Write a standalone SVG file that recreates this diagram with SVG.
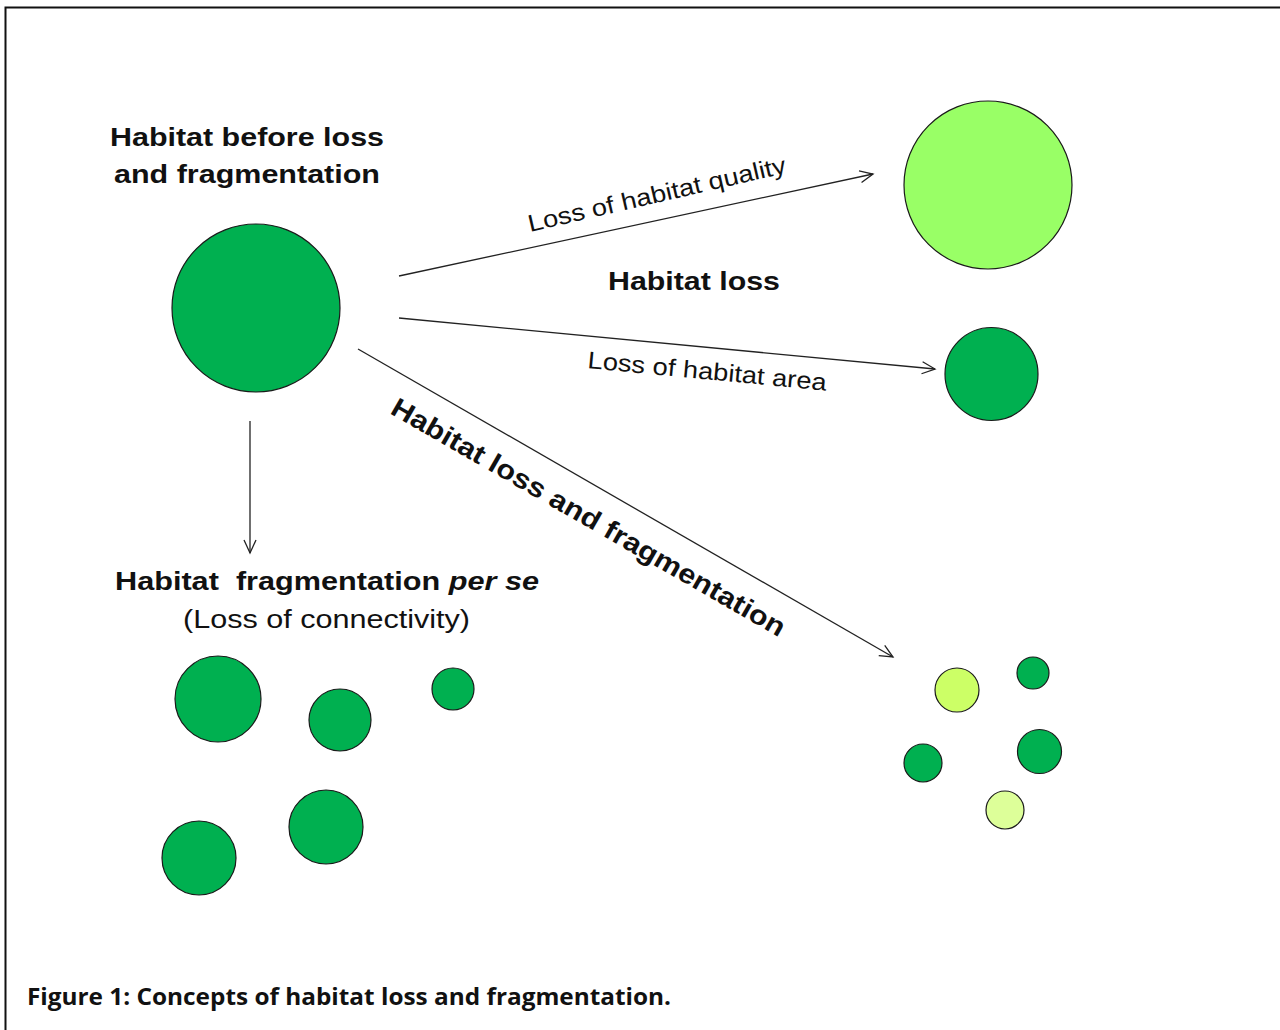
<svg xmlns="http://www.w3.org/2000/svg" width="1280" height="1030" viewBox="0 0 1280 1030">
<defs>
<marker id="arr" markerWidth="16" markerHeight="14" refX="14" refY="7" orient="auto" markerUnits="userSpaceOnUse">
<polyline points="1,1 14,7 1,13" fill="none" stroke="#222" stroke-width="1.3"/>
</marker>
<style>
.b{font-family:"Liberation Sans",Arial,sans-serif;font-weight:bold;fill:#111}
.r{font-family:"Liberation Sans",Arial,sans-serif;fill:#111}
.c{font-family:"Open Sans","Liberation Sans",sans-serif;font-weight:bold;fill:#111}
.g{fill:#00B050;stroke:#1a1a1a;stroke-width:1.2}
.lg{fill:#99FF66;stroke:#1a1a1a;stroke-width:1.2}
.yg{fill:#CCFF66;stroke:#1a1a1a;stroke-width:1.2}
.pg{fill:#DDFF99;stroke:#1a1a1a;stroke-width:1.2}
.ln{stroke:#222;stroke-width:1.3;fill:none;marker-end:url(#arr)}
</style>
</defs>
<rect width="1280" height="1030" fill="#fff"/>
<polyline points="5.5,1030 5.5,7.5 1280,7.5" fill="none" stroke="#111" stroke-width="2"/>

<g id="connectors">
<line class="ln" x1="399" y1="276" x2="873" y2="174"/>
<line class="ln" x1="399" y1="318" x2="935" y2="369"/>
<line class="ln" x1="358" y1="349" x2="893" y2="657"/>
<line class="ln" x1="250" y1="421" x2="250" y2="553"/>
</g>

<g id="labels">
<text class="r" font-size="24" transform="translate(530,232) rotate(-13)" textLength="264" lengthAdjust="spacingAndGlyphs">Loss of habitat quality</text>
<text class="b" font-size="26" x="694" y="290" text-anchor="middle" textLength="172" lengthAdjust="spacingAndGlyphs">Habitat loss</text>
<text class="r" font-size="24" transform="translate(587,368) rotate(5.4)" textLength="240" lengthAdjust="spacingAndGlyphs">Loss of habitat area</text>
<text class="b" font-size="27" transform="translate(389,413) rotate(29.9)" textLength="450" lengthAdjust="spacingAndGlyphs">Habitat loss and fragmentation</text>
</g>

<g id="node-before">
<text class="b" font-size="25" x="247" y="146" text-anchor="middle" textLength="274" lengthAdjust="spacingAndGlyphs">Habitat before loss</text>
<text class="b" font-size="25" x="247" y="183" text-anchor="middle" textLength="266" lengthAdjust="spacingAndGlyphs">and fragmentation</text>
<circle class="g" cx="256" cy="308" r="84"/>
</g>

<g id="node-quality">
<circle class="lg" cx="988" cy="185" r="84"/>
</g>

<g id="node-area">
<circle class="g" cx="991.5" cy="374" r="46.5"/>
</g>

<g id="node-perse">
<text class="b" font-size="25" x="115" y="590" textLength="424" lengthAdjust="spacingAndGlyphs">Habitat&#160; fragmentation <tspan font-style="italic">per se</tspan></text>
<text class="r" font-size="25" x="326.5" y="628" text-anchor="middle" textLength="287" lengthAdjust="spacingAndGlyphs">(Loss of connectivity)</text>
<circle class="g" cx="218" cy="699" r="43"/>
<circle class="g" cx="340" cy="720" r="31"/>
<circle class="g" cx="453" cy="689" r="21"/>
<circle class="g" cx="199" cy="858" r="37"/>
<circle class="g" cx="326" cy="827" r="37"/>
</g>

<g id="node-lossfrag">
<circle class="yg" cx="957" cy="690" r="22"/>
<circle class="g" cx="1033" cy="673" r="16"/>
<circle class="g" cx="923" cy="763" r="19"/>
<circle class="g" cx="1039.5" cy="751.5" r="22"/>
<circle class="pg" cx="1005" cy="810" r="19"/>
</g>

<g id="caption">
<text class="c" font-size="24" x="27" y="1005" textLength="644" lengthAdjust="spacingAndGlyphs">Figure 1: Concepts of habitat loss and fragmentation.</text>
</g>
</svg>
